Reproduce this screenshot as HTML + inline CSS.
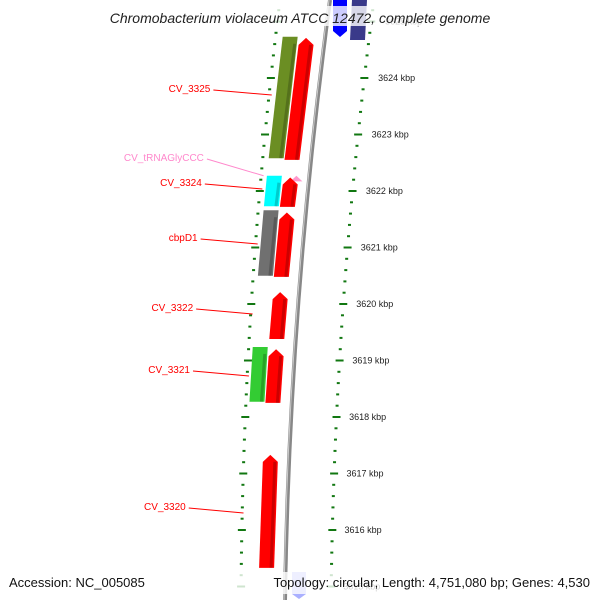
<!DOCTYPE html>
<html><head><meta charset="utf-8"><style>
body{margin:0;background:#fff}
svg{display:block;font-family:"Liberation Sans",sans-serif}
</style></head><body>
<svg width="600" height="600" viewBox="0 0 600 600">
<g id="plot"></g>
<rect x="85" y="6" width="430" height="20" fill="#fff" fill-opacity="0.8"/>
<text x="300" y="23" text-anchor="middle" font-style="italic" font-size="14" fill="#222">Chromobacterium violaceum ATCC 12472, complete genome</text>
<rect x="0" y="572" width="600" height="22" fill="#fff" fill-opacity="0.8"/>
<text x="9" y="587" font-size="13" fill="#111">Accession: NC_005085</text>
<text x="590" y="587" text-anchor="end" font-size="13" fill="#111">Topology: circular; Length: 4,751,080 bp; Genes: 4,530</text>
</svg>
<script>
const geneNames=["CV_3325","","CV_tRNAGlyCCC","CV_3324","","cbpD1","","CV_3322","CV_3321","","CV_3320"];
const geneStart=[3624.73,3624.71,3622.27,3622.27,3622.24,3621.66,3621.62,3620.21,3619.24,3619.20,3617.33];
const geneEnd=[3622.58,3622.55,3622.17,3621.73,3621.72,3620.50,3620.48,3619.38,3618.27,3618.25,3615.33];
const geneLane=["rev","fwd","trna","rev","fwd","rev","fwd","fwd","rev","fwd","fwd"];
const geneColor=["#6b8e23","#ff0000","#ff99cc","#00ffff","#ff0000","#707070","#ff0000","#ff0000","#33cc33","#ff0000","#ff0000"];
const labelY=[88,157,182,237,307,369,506];
const labelIdx=[0,2,3,5,7,8,10];
const NS="http://www.w3.org/2000/svg";
const g=document.getElementById('plot');
const Y=k=>78+(3624-k)*56.5;
const bx=y=>330-0.1347*y+0.0000995*y*y;
function el(t,a){const e=document.createElementNS(NS,t);for(const k in a)e.setAttribute(k,a[k]);g.appendChild(e);return e;}
// top blue features
let e=el('polygon',{points:`333,0 347,0 347,31 340,37 333,31`,fill:'#0000ff'});


e=el('polygon',{points:`352,0 367,0 365,40 350,40`,fill:'#3a3a8a'});


e=el('polygon',{points:`292,572 306,572 306,594 299,599 292,594`,fill:'#aab0ff'});


// backbone
let d='';for(let y=0;y<=600;y+=10)d+=(y?'L':'M')+bx(y).toFixed(1)+','+y;
e=el('path',{d:d,stroke:'#888',fill:'none','stroke-width':4});


e=el('path',{d:d,stroke:'#ccc',fill:'none','stroke-width':1,transform:'translate(-1,0)'});


// ticks
for(let i=0;i<=55;i++){const k=3615+i*0.2;const y=Y(k);if(y<-5||y>605)continue;
 const major=Math.abs(k-Math.round(k))<0.01;
 const w=major?8:3;
 [44+(y/600)*2,-50+(y/600)*6].forEach((off,j)=>{
  const x=bx(y)+off;
  const t=el('rect',{x:x-w/2,y:y-1,width:w,height:2,fill:'#117711'});
  
  
 });
 if(major){const t=el('text',{x:bx(y)+58,y:y+3,'font-size':9,fill:'#222'});t.textContent=Math.round(k)+' kbp';
  
  }
}
// genes
geneStart.forEach((s,i)=>{
 const y1=Y(s),y2=Y(geneEnd[i]);const lane=geneLane[i];
 const off=lane==='fwd'?-19:lane==='rev'?-35:-13;const w=lane==='trna'?12:15;
 const c1=bx(y1)+off,c2=bx(y2)+off;
 let p;
 if(lane==='fwd'){p=`${c1-w/2},${y1+7} ${c1},${y1} ${c1+w/2},${y1+7} ${c2+w/2},${y2} ${c2-w/2},${y2}`;}
 else if(lane==='trna'){p=`${c1-w/2},${y2} ${c1},${y1} ${c1+w/2},${y2}`;}
 else p=`${c1-w/2},${y1} ${c1+w/2},${y1} ${c2+w/2},${y2} ${c2-w/2},${y2}`;
 const r=el('polygon',{points:p,fill:geneColor[i]});
 
 
 if(lane!=='trna'){const sh=el('line',{x1:c1+w/2-3,y1:y1+7,x2:c2+w/2-3,y2:y2,stroke:'#000','stroke-opacity':0.2,'stroke-width':3});
  
  }
});
// labels
labelIdx.forEach((gi,j)=>{
 const ly=labelY[j];const mid=(Y(geneStart[gi])+Y(geneEnd[gi]))/2;
 const ty=Math.min(Math.max(ly+7,Y(geneStart[gi])),Y(geneEnd[gi]));
 const col=geneLane[gi]==='trna'?'#ff88cc':'#ff0000';
 const tx=bx(ty)-47+(ty/600)*4;
 const l=el('line',{x1:bx(ly)-107+(ly/600)*10,y1:ly+2,x2:tx,y2:ty,stroke:col,'stroke-width':1});
 
 
 const t=el('text',{x:bx(ly)-110+(ly/600)*10,y:ly+4,'text-anchor':'end','font-size':10,fill:col});
 t.textContent=geneNames[gi];
 
 
});
</script>
</body></html>
